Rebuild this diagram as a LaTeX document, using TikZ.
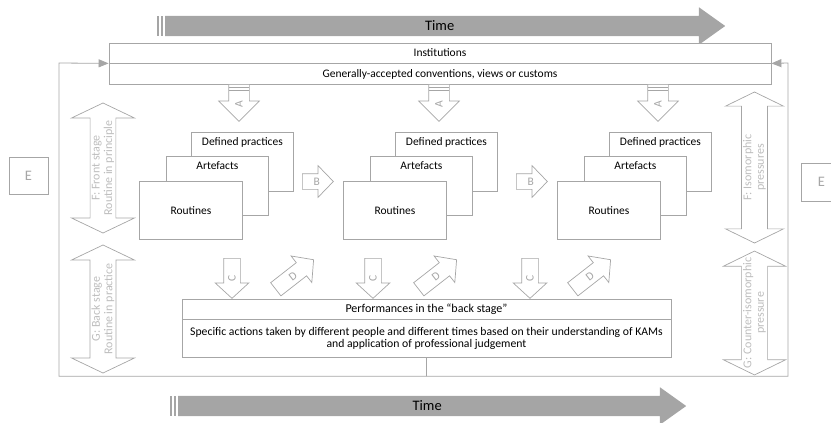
\documentclass[tikz,border=0pt]{standalone}
\usepackage{fontspec}
\setmainfont{Carlito}
\usetikzlibrary{arrows.meta}
\usetikzlibrary{shapes.arrows}
\usetikzlibrary{positioning}
\usetikzlibrary{calc}

\definecolor{linegray}{HTML}{A6A6A6}
\definecolor{labelgray}{HTML}{BDBDBD}
\definecolor{timegray}{HTML}{A5A5A5}

\tikzset{box/.style = {draw=linegray, fill=white, line width=0.8pt, inner sep=0pt}}
\tikzset{ebox/.style = {draw=linegray, line width=0.8pt, text=linegray,
                        font=\fontsize{14.5}{16}\selectfont}}
% shaft width is given as the text height of an empty node
\tikzset{smallarrow/.style = {single arrow, draw=linegray, fill=white, line width=0.7pt,
                              inner sep=0pt, text depth=0pt}}
\tikzset{letter/.style = {text=linegray, inner sep=0pt}}
\tikzset{stagearrow/.style = {double arrow, draw=linegray, line width=0.7pt, inner sep=0pt,
                              rotate=90, align=center, text=labelgray,
                              font=\fontsize{12}{12.5}\selectfont}}
\tikzset{timearrow/.style = {single arrow, fill=timegray, inner sep=0pt, text height=20pt,
                             text depth=0pt, minimum width=37pt,
                             single arrow head extend=8.5pt, single arrow tip angle=71}}
\tikzset{frame/.style = {draw=linegray, line width=0.8pt}}

\begin{document}
\begin{tikzpicture}[x=1pt, y=-1pt, font=\fontsize{11.5}{12.5}\selectfont]
  \useasboundingbox (0,0) rectangle (831,423);

  % time runs along the top and the bottom
  \node [timearrow, anchor=tail, minimum height=560pt] (time1) at (165,26) {};
  \foreach \s in {157,160.5} \fill [timegray] (\s,16) rectangle ++(2,20);
  \node [font=\fontsize{14.5}{16}\selectfont] at ($(time1.tail)!0.49!(time1.tip)$) {Time};
  \node [timearrow, anchor=tail, minimum height=508pt] (time2) at (178,406) {};
  \foreach \s in {170,173.5} \fill [timegray] (\s,396) rectangle ++(2,20);
  \node [font=\fontsize{14.5}{16}\selectfont] at ($(time2.tail)!0.49!(time2.tip)$) {Time};

  % institutions
  \node [box, minimum width=662pt, minimum height=20pt] (inst) at (440,53) {Institutions};
  \node [box, minimum width=662pt, minimum height=21pt, below=0pt of inst] (conv)
        {Generally-accepted conventions, views or customs};

  % stacked practices, artefacts and routines
  \foreach \x/\n in {139/1, 343/2, 557/3} {
    \node [box, anchor=north west, minimum width=102pt, minimum height=59pt,
           label={[below=2pt]north:Defined practices}] (dp\n) at (\x+52,132) {};
    \node [box, anchor=north west, minimum width=102pt, minimum height=59pt,
           label={[below=2pt]north:Artefacts}] (art\n) at (\x+27,156) {};
    \node [box, anchor=north west, minimum width=103pt, minimum height=58pt] (rt\n)
          at (\x,181) {Routines};
  }

  % A: from the conventions down to each set of routines
  \foreach \x/\n in {239/1, 439/2, 658/3} {
    \node [smallarrow, rotate=90, shape border rotate=180, anchor=tail, text height=20pt,
           minimum height=37pt, minimum width=40pt, single arrow head extend=10pt,
           single arrow tip angle=90] (a\n) at (\x,84) {};
    \draw [linegray, line width=0.6pt] (\x-10,87.5) -- (\x+10,87.5)
                                        (\x-10,90.5) -- (\x+10,90.5);
    \node [letter, rotate=90] at ($(a\n.tail)!0.54!(a\n.tip)$) {A};
  }

  % B: one set of routines to the next
  \foreach \x/\n in {302/1, 516/2} {
    \node [smallarrow, anchor=tail, text height=15pt, minimum height=31pt, minimum width=31pt,
           single arrow head extend=8pt, single arrow tip angle=92] (b\n) at (\x,181.5) {};
    \node [letter] at ($(b\n.tail)!0.46!(b\n.tip)$) {B};
  }

  % performances in the back stage
  \node [box, minimum width=489pt, minimum height=20pt, font=\fontsize{12}{12.5}\selectfont]
        (perf) at (426.5,309) {Performances in the “back stage”};
  \node [box, minimum width=489pt, minimum height=38pt, below=0pt of perf, align=center,
         font=\fontsize{11.7}{12}\selectfont] (acts)
        {Specific actions taken by different people and different times based on their understanding of KAMs\\
         and application of professional judgement};

  % C down into the performances, D back up
  \foreach \x/\n in {232/1, 373/2, 530/3} {
    \node [smallarrow, rotate=90, shape border rotate=180, anchor=tail, text height=16pt,
           minimum height=40pt, minimum width=33pt, single arrow head extend=8.5pt,
           single arrow tip angle=95] (c\n) at (\x,258) {};
    \node [letter, rotate=90] at ($(c\n.tail)!0.5!(c\n.tip)$) {C};
  }
  \foreach \x/\n in {275.5/1, 418.5/2, 572.5/3} {
    \node [smallarrow, rotate=38, anchor=tail, text height=16pt, minimum height=48pt,
           minimum width=33pt, single arrow head extend=8.5pt,
           single arrow tip angle=95] (d\n) at (\x,289.5) {};
    \node [letter, rotate=38] at ($(d\n.tail)!0.45!(d\n.tip)$) {D};
  }

  % feedback loop round the whole field
  \coordinate (fl) at (59,63);
  \coordinate (fr) at (788,63);
  \draw [frame, -{Triangle[length=10pt, width=8pt]}]
        (acts.south) -- ++(0,18) coordinate (fb) -| (fl) -- (conv.north west);
  \draw [frame, -{Triangle[length=10pt, width=8pt]}] (fb) -| (fr) -- (conv.north east);

  % E outside the field
  \node [ebox, minimum width=39pt, minimum height=37pt] (e1) at (28.5,175.5) {E};
  \node [ebox, minimum width=40pt, minimum height=38pt, anchor=west] (e2) at (801,182) {E};

  % F and G pressures on either side
  \node [stagearrow, minimum height=130pt, minimum width=63pt, double arrow head extend=16.5pt,
         double arrow tip angle=129] (f1) at (103,168) {F: Front stage\\Routine in principle};
  \node [stagearrow, minimum height=128pt, minimum width=63pt, double arrow head extend=16.5pt,
         double arrow tip angle=129] (g1) at (103,309) {G: Back stage\\Routine in practice};
  \node [stagearrow, minimum height=151pt, minimum width=58pt, double arrow head extend=14.5pt,
         double arrow tip angle=128] (f2) at (754.5,167.5) {F: Isomorphic\\pressures};
  \node [stagearrow, minimum height=120pt, minimum width=62pt, double arrow head extend=16pt,
         double arrow tip angle=128] (g2) at (754.5,313) {G: Counter-isomorphic\\pressure};
\end{tikzpicture}
\end{document}
